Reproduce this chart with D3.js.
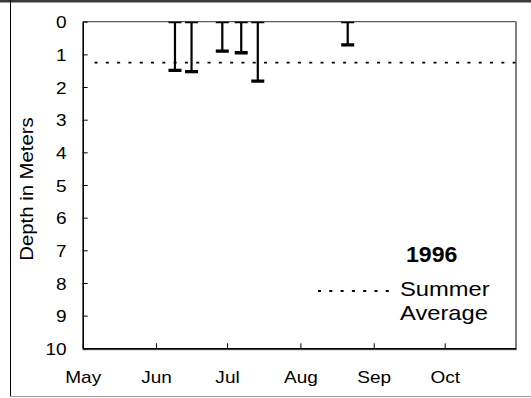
<!DOCTYPE html>
<html>
<head>
<meta charset="utf-8">
<script src="https://cdn.jsdelivr.net/npm/d3@7"></script>
<style>
  html, body { margin: 0; padding: 0; background: #fff; }
  svg { display: block; }
  text { font-family: "Liberation Sans", Arial, sans-serif; fill: #000; }
</style>
</head>
<body>
<svg id="chart" width="531" height="398"></svg>
<script>
// Secchi-style depth readings, 1996: each bar runs from the surface down to the reading.
const sampleDates = ["1996-06-09", "1996-06-16", "1996-06-29", "1996-07-07", "1996-07-14", "1996-08-21"];
const depths = [1.49, 1.53, 0.90, 0.95, 1.82, 0.71];
const summerAverage = 1.25;
const averageSpan = ["1996-05-06", "1996-10-31"];
const yTicks = [0, 1, 2, 3, 4, 5, 6, 7, 8, 9, 10];
const monthTicks = ["1996-05-01", "1996-06-01", "1996-07-01", "1996-08-01", "1996-09-01", "1996-10-01"];
const yearLabel = "1996";
const legendLines = ["Summer", "Average"];
const yTitle = "Depth in Meters";

const parse = d3.timeParse("%Y-%m-%d");
const svg = d3.select("#chart");
const W = 531, H = 398;
const plot = { left: 82.7, top: 21.7, right: 515.7, bottom: 348.3 };

const x = d3.scaleTime()
  .domain([parse("1996-05-01"), parse("1996-10-31")])
  .range([plot.left, plot.right]);
const y = d3.scaleLinear().domain([0, 10]).range([plot.top, plot.bottom]);

// outer frame
svg.append("rect").attr("x", 0).attr("y", 0).attr("width", W).attr("height", 2.5).attr("fill", "#3a3a3a");
svg.append("line").attr("x1", 10.5).attr("x2", 10.5).attr("y1", 0).attr("y2", 397).attr("stroke", "#000").attr("stroke-width", 1);
svg.append("line").attr("x1", 10).attr("x2", W).attr("y1", 396.5).attr("y2", 396.5).attr("stroke", "#9a9a9a").attr("stroke-width", 1.2);

// plot area border: dark top, grey right / bottom edges
svg.append("line").attr("x1", plot.left).attr("x2", plot.right).attr("y1", plot.top).attr("y2", plot.top)
  .attr("stroke", "#333").attr("stroke-width", 1);
svg.append("line").attr("x1", plot.right + 0.3).attr("x2", plot.right + 0.3).attr("y1", plot.top - 0.5).attr("y2", plot.bottom + 1.5)
  .attr("stroke", "#808080").attr("stroke-width", 2);
svg.append("line").attr("x1", plot.left).attr("x2", plot.right + 1).attr("y1", plot.bottom + 1).attr("y2", plot.bottom + 1)
  .attr("stroke", "#808080").attr("stroke-width", 2);

const sx = 1.12;

// y axis, ticks pointing into the plot
const yAxis = svg.append("g").attr("transform", `translate(${plot.left},0)`)
  .call(d3.axisLeft(y).tickValues(yTicks).tickSizeInner(-5).tickSizeOuter(0).tickFormat(d3.format("d")));
yAxis.select(".domain").attr("stroke", "#000").attr("stroke-width", 1.6);
yAxis.selectAll(".tick line").attr("stroke", "#000");
yAxis.selectAll(".tick text")
  .attr("x", 0).attr("dy", "0.36em")
  .attr("font-size", 17).attr("font-family", null)
  .attr("transform", `translate(-16,0) scale(${sx},1)`);

// x axis, month ticks pointing into the plot
const xAxis = svg.append("g").attr("transform", `translate(0,${plot.bottom})`)
  .call(d3.axisBottom(x).tickValues(monthTicks.map(parse)).tickSizeInner(-5).tickSizeOuter(0).tickFormat(d3.timeFormat("%b")));
xAxis.select(".domain").attr("stroke", "#000").attr("stroke-width", 1.6);
xAxis.selectAll(".tick line").attr("stroke", "#000");
xAxis.selectAll(".tick text")
  .attr("y", 0).attr("dy", 0)
  .attr("font-size", 17).attr("font-family", null)
  .attr("transform", `translate(0,35) scale(${sx},1)`);

// y title
svg.append("text")
  .attr("transform", `translate(33,${(plot.top + plot.bottom) / 2 + 4}) rotate(-90) scale(1.13,1)`)
  .attr("text-anchor", "middle")
  .attr("font-size", 18)
  .text(yTitle);

// clip for marks
svg.append("clipPath").attr("id", "plotClip")
  .append("rect").attr("x", plot.left).attr("y", plot.top).attr("width", plot.right - plot.left).attr("height", plot.bottom - plot.top);

const marks = svg.append("g").attr("clip-path", "url(#plotClip)");

// summer average line
const dash = "3,8.3";
marks.append("line")
  .attr("x1", x(parse(averageSpan[0]))).attr("x2", x(parse(averageSpan[1])))
  .attr("y1", y(summerAverage)).attr("y2", y(summerAverage))
  .attr("stroke", "#000").attr("stroke-width", 1.8).attr("stroke-dasharray", dash);

// depth bars
const data = sampleDates.map((d, i) => ({ date: parse(d), depth: depths[i] }));
const capW = 13;
const bars = marks.selectAll("g.bar").data(data).join("g").attr("class", "bar");
bars.append("line")
  .attr("x1", d => x(d.date)).attr("x2", d => x(d.date))
  .attr("y1", y(0)).attr("y2", d => y(d.depth))
  .attr("stroke", "#000").attr("stroke-width", 2.2);
bars.append("line")
  .attr("x1", d => x(d.date) - capW / 2).attr("x2", d => x(d.date) + capW / 2)
  .attr("y1", y(0)).attr("y2", y(0))
  .attr("stroke", "#000").attr("stroke-width", 3.2);
bars.append("line")
  .attr("x1", d => x(d.date) - capW / 2).attr("x2", d => x(d.date) + capW / 2)
  .attr("y1", d => y(d.depth)).attr("y2", d => y(d.depth))
  .attr("stroke", "#000").attr("stroke-width", 3.4);

// legend
svg.append("text")
  .attr("transform", `translate(431.7,262) scale(1.05,1)`)
  .attr("text-anchor", "middle").attr("font-size", 22).attr("font-weight", "bold")
  .text(yearLabel);
svg.append("line")
  .attr("x1", 318).attr("x2", 392).attr("y1", 291).attr("y2", 291)
  .attr("stroke", "#000").attr("stroke-width", 1.8).attr("stroke-dasharray", dash);
legendLines.forEach((t, i) => {
  svg.append("text")
    .attr("transform", `translate(400,${296 + i * 24}) scale(1.13,1)`)
    .attr("font-size", 21)
    .text(t);
});
</script>
</body>
</html>
